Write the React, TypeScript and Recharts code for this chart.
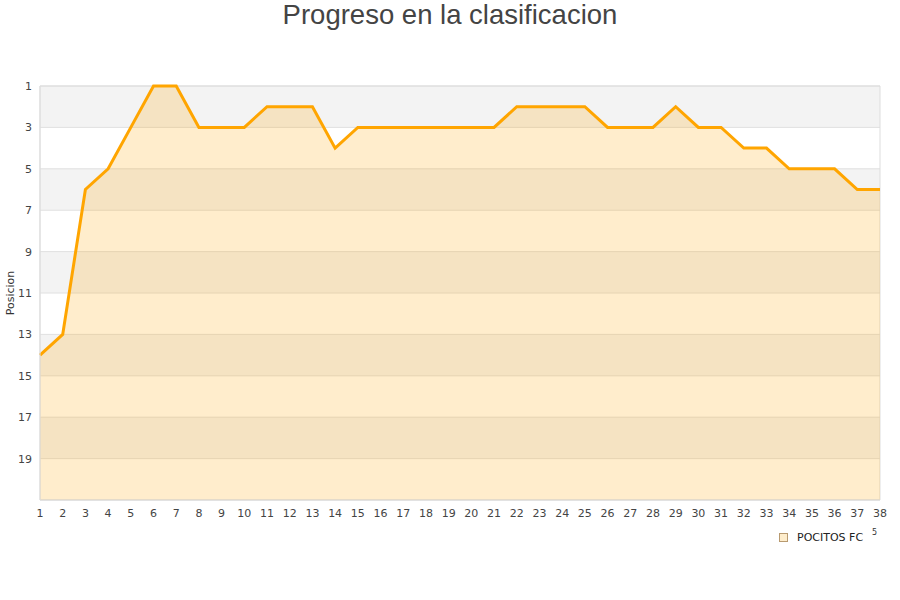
import React from "react";
import {
  AreaChart,
  Area,
  XAxis,
  YAxis,
  CartesianGrid,
  ReferenceArea,
} from "recharts";

// Jornadas 1..38 and the position after each one
const rounds = [
  1, 2, 3, 4, 5, 6, 7, 8, 9, 10, 11, 12, 13, 14, 15, 16, 17, 18, 19, 20, 21,
  22, 23, 24, 25, 26, 27, 28, 29, 30, 31, 32, 33, 34, 35, 36, 37, 38,
];
const positions = [
  14, 13, 6, 5, 3, 1, 1, 3, 3, 3, 2, 2, 2, 4, 3, 3, 3, 3, 3, 3, 3, 2, 2, 2, 2,
  3, 3, 3, 2, 3, 3, 4, 4, 5, 5, 5, 6, 6,
];
const yTicks = [1, 3, 5, 7, 9, 11, 13, 15, 17, 19];
const greyBands = [
  [1, 3],
  [5, 7],
  [9, 11],
  [13, 15],
  [17, 19],
];
const teamName = "POCITOS FC";

const chartData = rounds.map((r, i) => ({ round: r, pos: positions[i] }));

const tickStyle = { fontFamily: "DejaVu Sans", fontSize: 11, fill: "#444" };

export default function App() {
  return (
    <div style={{ position: "absolute", left: 0, top: 0, width: 900, height: 600 }}>
      <div
        style={{
          position: "absolute",
          top: 0,
          width: 900,
          textAlign: "center",
          fontFamily: "Liberation Sans",
          fontSize: 27.5,
          lineHeight: "30px",
          color: "#444",
        }}
      >
        Progreso en la clasificacion
      </div>
      <AreaChart
        width={900}
        height={600}
        data={chartData}
        margin={{ top: 86, right: 20, left: 0, bottom: 70 }}
      >
        {greyBands.map(([a, b]) => (
          <ReferenceArea
            key={a}
            y1={a}
            y2={b}
            fill="#f3f3f3"
            fillOpacity={1}
            stroke="none"
            zIndex={-150}
          />
        ))}
        <CartesianGrid vertical={false} stroke="#e0e0e0" />
        <XAxis
          dataKey="round"
          height={30}
          tick={tickStyle}
          tickLine={false}
          tickSize={0}
          tickMargin={9}
          stroke="#ddd"
          interval={0}
        />
        <YAxis
          type="number"
          domain={[1, 21]}
          reversed
          ticks={yTicks}
          width={40}
          tick={tickStyle}
          tickLine={false}
          tickSize={0}
          tickMargin={8}
          stroke="#ddd"
        />
        <Area
          type="linear"
          dataKey="pos"
          baseValue={21}
          stroke="#FFA500"
          strokeWidth={3}
          fill="#FFA500"
          fillOpacity={0.2}
          dot={false}
          activeDot={false}
          isAnimationActive={false}
        />
        <ReferenceArea
          x1={1}
          x2={38}
          y1={1}
          y2={21}
          fill="none"
          stroke="#ddd"
          zIndex={-50}
        />
      </AreaChart>
      <div
        style={{
          position: "absolute",
          left: 10,
          top: 293,
          transform: "translate(-50%, -50%) rotate(-90deg)",
          fontFamily: "DejaVu Sans",
          fontSize: 11,
          color: "#333",
          whiteSpace: "nowrap",
        }}
      >
        Posicion
      </div>
      <div
        style={{
          position: "absolute",
          left: 779,
          top: 531,
          display: "flex",
          alignItems: "center",
          fontFamily: "DejaVu Sans",
          fontSize: 11,
          color: "#222",
        }}
      >
        <span
          style={{
            display: "inline-block",
            width: 7,
            height: 7,
            background: "#FEEDCC",
            border: "1px solid #b89a70",
            marginRight: 9,
          }}
        />
        {teamName}
      </div>
      <div
        style={{
          position: "absolute",
          left: 872,
          top: 528,
          fontFamily: "DejaVu Sans",
          fontSize: 8,
          color: "#333",
        }}
      >
        5
      </div>
    </div>
  );
}
